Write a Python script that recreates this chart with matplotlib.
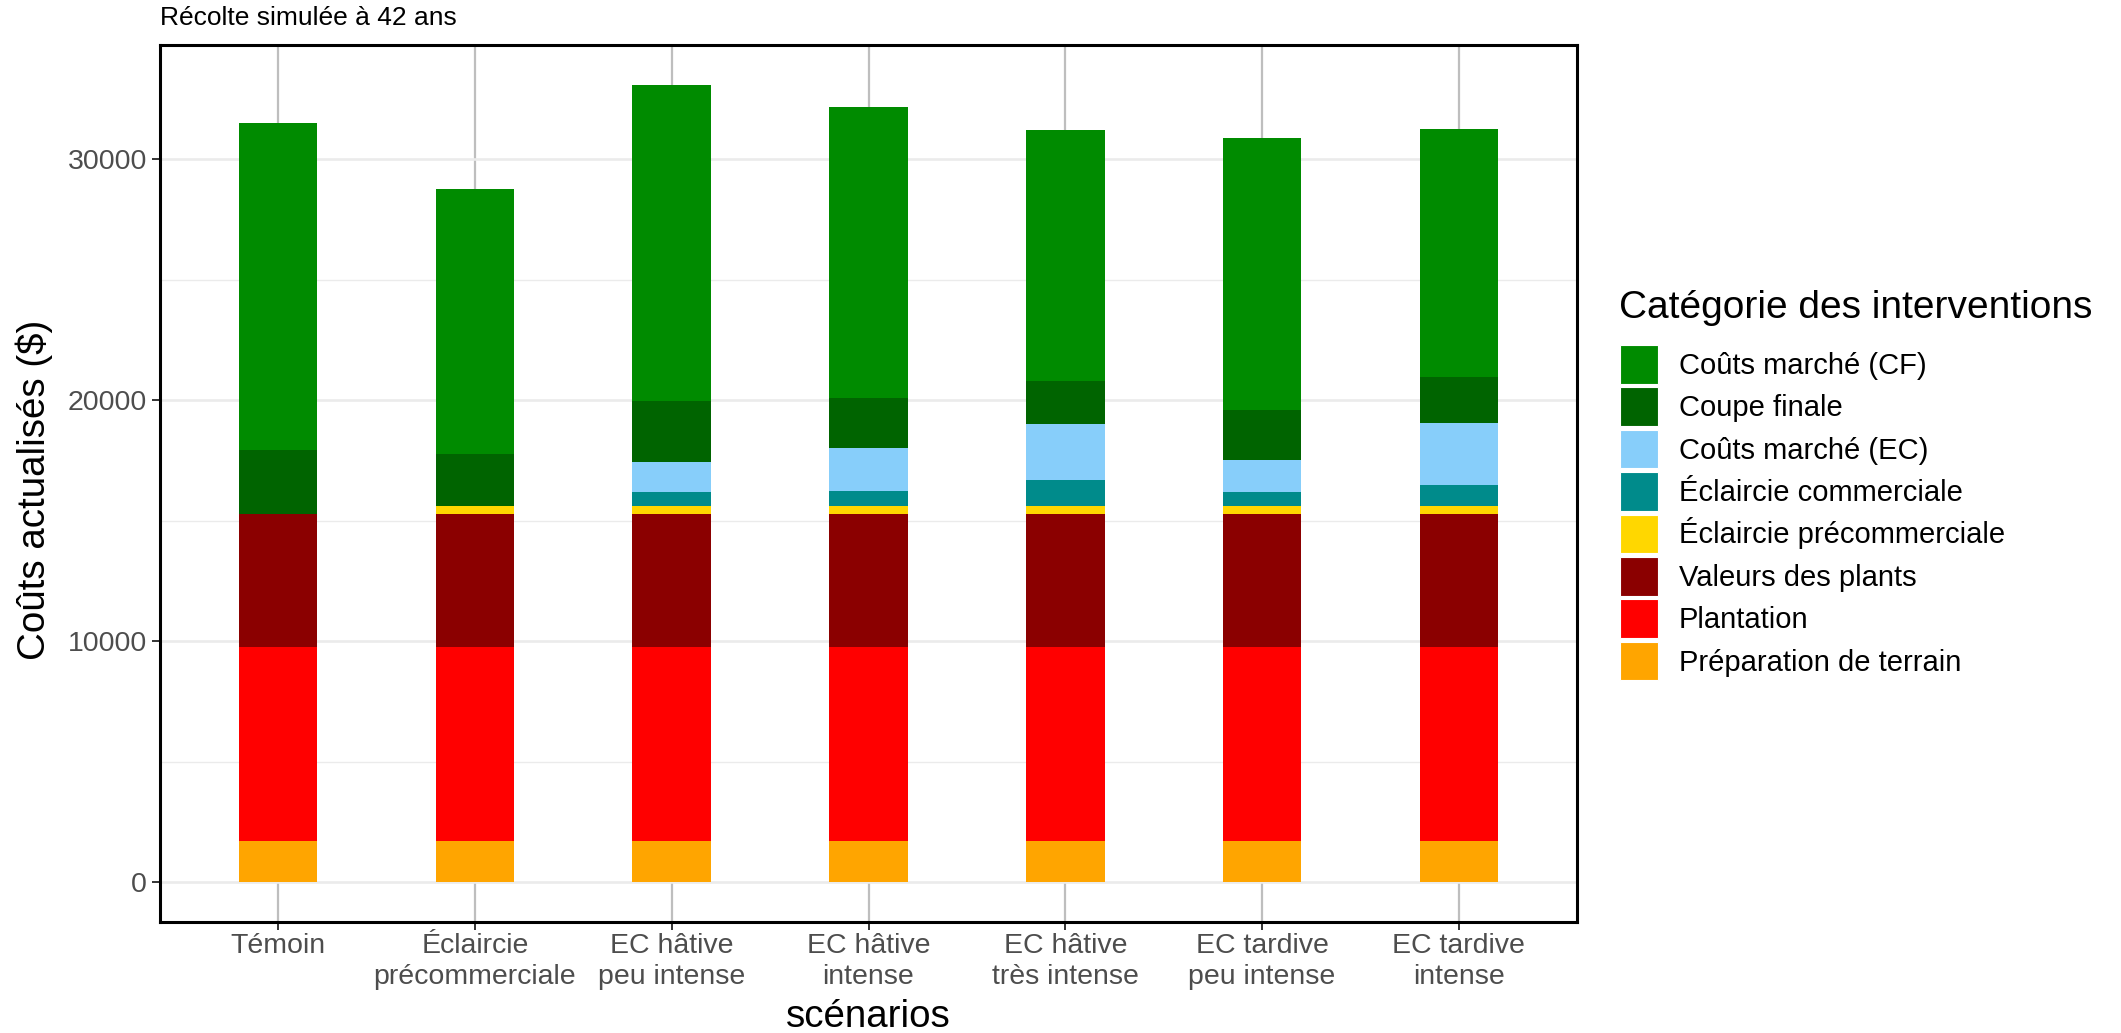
import matplotlib
matplotlib.use("Agg")
import matplotlib.pyplot as plt
from matplotlib.patches import Patch
import numpy as np

plt.rcParams['font.family'] = ['Liberation Sans', 'DejaVu Sans']

# ---- data ----
scenarios = ["Témoin", "Éclaircie\nprécommerciale", "EC hâtive\npeu intense",
             "EC hâtive\nintense", "EC hâtive\ntrès intense",
             "EC tardive\npeu intense", "EC tardive\nintense"]

# stacking order: bottom -> top
categories = ["Préparation de terrain", "Plantation", "Valeurs des plants",
              "Éclaircie précommerciale", "Éclaircie commerciale",
              "Coûts marché (EC)", "Coupe finale", "Coûts marché (CF)"]
colors = ["#FFA500", "#FF0000", "#8B0000", "#FFD700", "#008B8B",
          "#87CEFA", "#006400", "#008B00"]

preparation = [1700, 1700, 1700, 1700, 1700, 1700, 1700]
plantation = [8070, 8070, 8070, 8070, 8070, 8070, 8070]
valeurs_plants = [5500, 5500, 5500, 5500, 5500, 5500, 5500]
eclaircie_precom = [0, 330, 330, 330, 330, 330, 330]
eclaircie_com = [0, 0, 614, 630, 1094, 602, 875]
couts_marche_ec = [0, 0, 1240, 1775, 2322, 1312, 2596]
coupe_finale = [2650, 2155, 2512, 2104, 1804, 2103, 1885]
couts_marche_cf = [13580, 11010, 13131, 12049, 10410, 11257, 10328]

series = [preparation, plantation, valeurs_plants, eclaircie_precom,
          eclaircie_com, couts_marche_ec, coupe_finale, couts_marche_cf]

yticks = [0, 10000, 20000, 30000]
yminor = [5000, 15000, 25000]

# ---- figure ----
W, H = 2121, 1033
fig = plt.figure(figsize=(W / 100, H / 100), dpi=100)
L, R, T, B = 160, 1577, 45, 922
ax = fig.add_axes([L / W, 1 - B / H, (R - L) / W, (B - T) / H])

x = np.arange(1, len(scenarios) + 1)
bottom = np.zeros(len(scenarios))
for vals, c in zip(series, colors):
    v = np.array(vals, dtype=float)
    ax.bar(x, v, width=0.4, bottom=bottom, color=c, linewidth=0, zorder=2)
    bottom += v

total_max = bottom.max()
ax.set_ylim(-0.05 * total_max, 1.05 * total_max)
ax.set_xlim(0.4, len(scenarios) + 0.6)

ax.set_yticks(yticks)
ax.set_yticklabels([str(t) for t in yticks])
ax.set_yticks(yminor, minor=True)
ax.set_xticks(x)
ax.set_xticklabels(scenarios)

ax.grid(which='major', axis='y', color='#EBEBEB', linewidth=1.9, zorder=0)
ax.grid(which='minor', axis='y', color='#EBEBEB', linewidth=1.0, zorder=0)
ax.grid(which='major', axis='x', color='#BEBEBE', linewidth=1.6, zorder=0)
ax.set_axisbelow(True)

for s in ax.spines.values():
    s.set_linewidth(2.2)
    s.set_color('black')

ax.tick_params(which='minor', length=0)
ax.tick_params(axis='y', which='major', labelsize=20.5, labelcolor='#4D4D4D',
               color='#333333', length=5.8, width=1.4, pad=3.6)
ax.tick_params(axis='x', which='major', labelsize=20.5, labelcolor='#4D4D4D',
               color='#333333', length=5.8, width=1.4, pad=2.0)
for lab in ax.get_xticklabels():
    lab.set_linespacing(1.26)

ax.set_xlabel('scénarios', fontsize=27.7)
ax.xaxis.label.set_verticalalignment('baseline')
ax.xaxis.set_label_coords(0.5, (B - 1027) / (B - T))

ax.set_ylabel('Coûts actualisés ($)', fontsize=27.7)
ax.yaxis.label.set_verticalalignment('center')
ax.yaxis.set_label_coords((34 - L) / (R - L), (B - 490) / (B - T))

ax.set_title('Récolte simulée à 42 ans', loc='left', fontsize=19, pad=14.5)

# legend (top entry = top of stack)
handles = [Patch(facecolor=c, edgecolor='white', linewidth=0.8)
           for c in colors[::-1]]
fig.text(1619 / W, 1 - 318 / H, 'Catégorie des interventions',
         fontsize=28, va='baseline', ha='left')
ax.legend(handles, categories[::-1], loc='upper left',
          bbox_to_anchor=(1620 / W, 1 - 345 / H), bbox_transform=fig.transFigure,
          frameon=False, fontsize=21, handlelength=1.3, handleheight=1.66,
          labelspacing=0.13, handletextpad=0.72, borderpad=0, borderaxespad=0)

fig.savefig('out.png', dpi=100)
